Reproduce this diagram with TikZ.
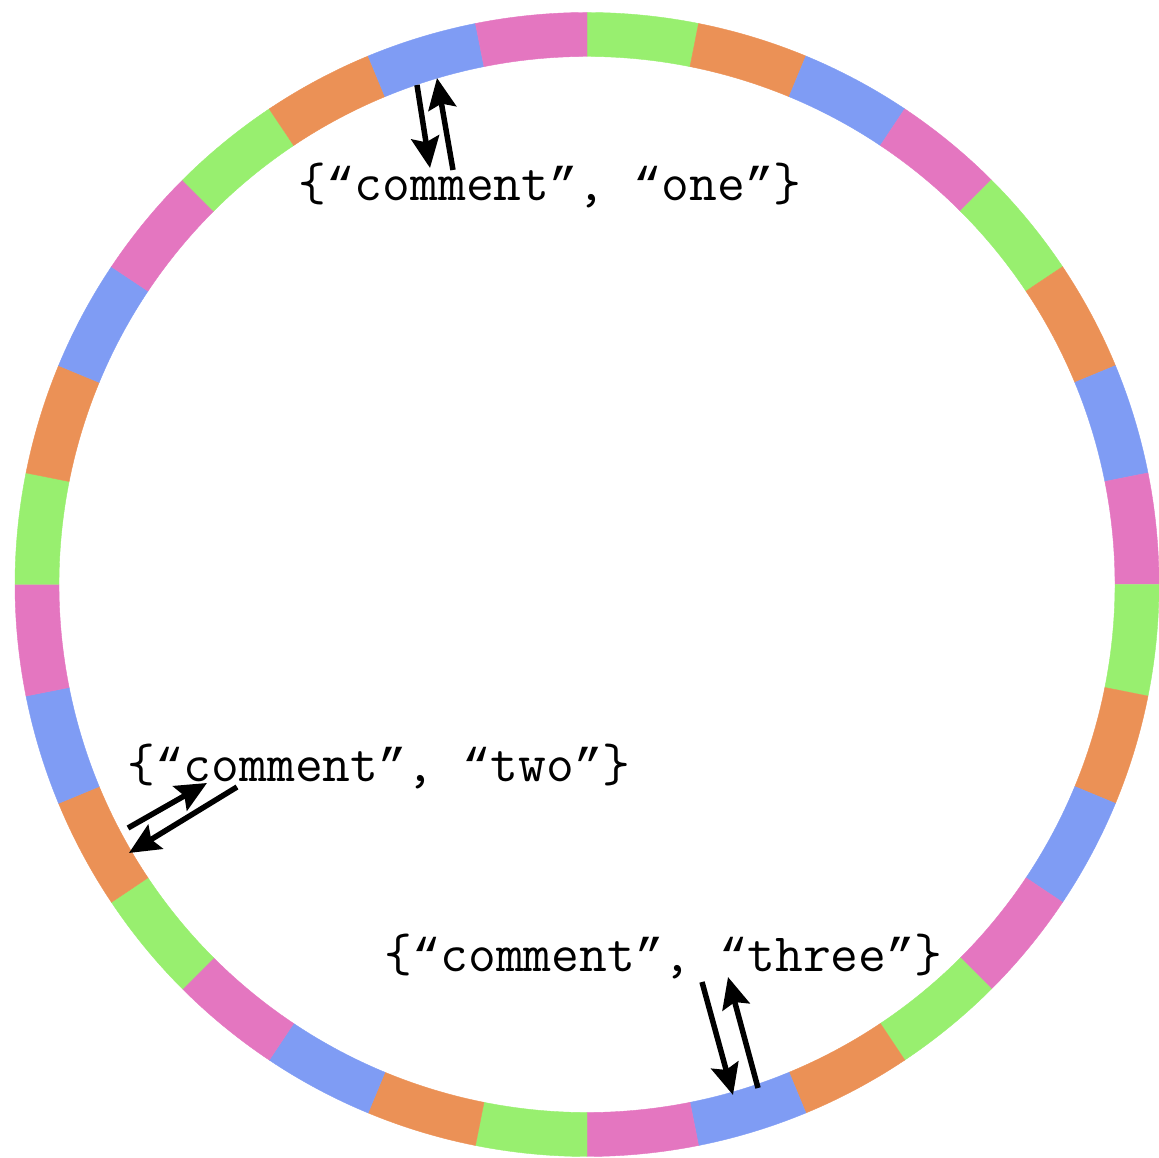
\documentclass[tikz,border=0pt]{standalone}
\usepackage{fontspec}
\usetikzlibrary{arrows.meta}
\newfontfamily\quotefont{Liberation Mono}
% slanted quote marks with the same advance as the typewriter letters
\newcommand\qlo{{\quotefont\fontsize{47.25}{50}\selectfont “}}
\newcommand\qlc{{\quotefont\fontsize{47.25}{50}\selectfont ”}}
\definecolor{seg0}{HTML}{98EF6F}
\definecolor{seg1}{HTML}{EB9156}
\definecolor{seg2}{HTML}{7F9CF4}
\definecolor{seg3}{HTML}{E476C0}
\tikzset{
  lbl/.style={font=\ttfamily\fontsize{54}{60}\selectfont, inner sep=0pt, anchor=base},
  link/.style={line width=5.5pt, -{Stealth[length=31pt,width=28pt,inset=5pt]}},
}
\begin{document}
\begin{tikzpicture}[x=1pt,y=1pt]
\useasboundingbox (0,0) rectangle (1159,1158);
\coordinate (O) at (587,573.5);
% ring of 32 coloured segments, clockwise from the top
\foreach \k in {0,...,31} {
  \pgfmathsetmacro\a{90-11.25*\k}
  \pgfmathsetmacro\b{90-11.25*\k-11.25}
  \pgfmathtruncatemacro\c{mod(\k,4)}
  \filldraw[fill=seg\c, draw=seg\c, line width=0.4pt]
    ([shift={(\a:572pt)}]O) arc[start angle=\a, end angle=\b, radius=572pt]
    -- ([shift={(\b:528pt)}]O) arc[start angle=\b, end angle=\a, radius=528pt]
    -- cycle;
}
% labels
\node[lbl] (one)   at (550,957)   {\{\qlo comment\qlc, \qlo one\qlc\}};
\node[lbl] (two)   at (379,376)   {\{\qlo comment\qlc, \qlo two\qlc\}};
\node[lbl] (three) at (663.5,186) {\{\qlo comment\qlc, \qlo three\qlc\}};
% arrow end points
\coordinate (a1s) at (417,1073); \coordinate (a1e) at (430,990);
\coordinate (b1s) at (453,988);  \coordinate (b1e) at (437,1080);
\coordinate (a2s) at (128,330);  \coordinate (a2e) at (207,375);
\coordinate (b2s) at (237,371);  \coordinate (b2e) at (129,305);
\coordinate (a3s) at (702,176);  \coordinate (a3e) at (733,63);
\coordinate (b3s) at (758,70);   \coordinate (b3e) at (728,181);
\draw[link] (a1s) -- (a1e);
\draw[link] (b1s) -- (b1e);
\draw[link] (a2s) -- (a2e);
\draw[link] (b2s) -- (b2e);
\draw[link] (a3s) -- (a3e);
\draw[link] (b3s) -- (b3e);
\end{tikzpicture}
\end{document}
